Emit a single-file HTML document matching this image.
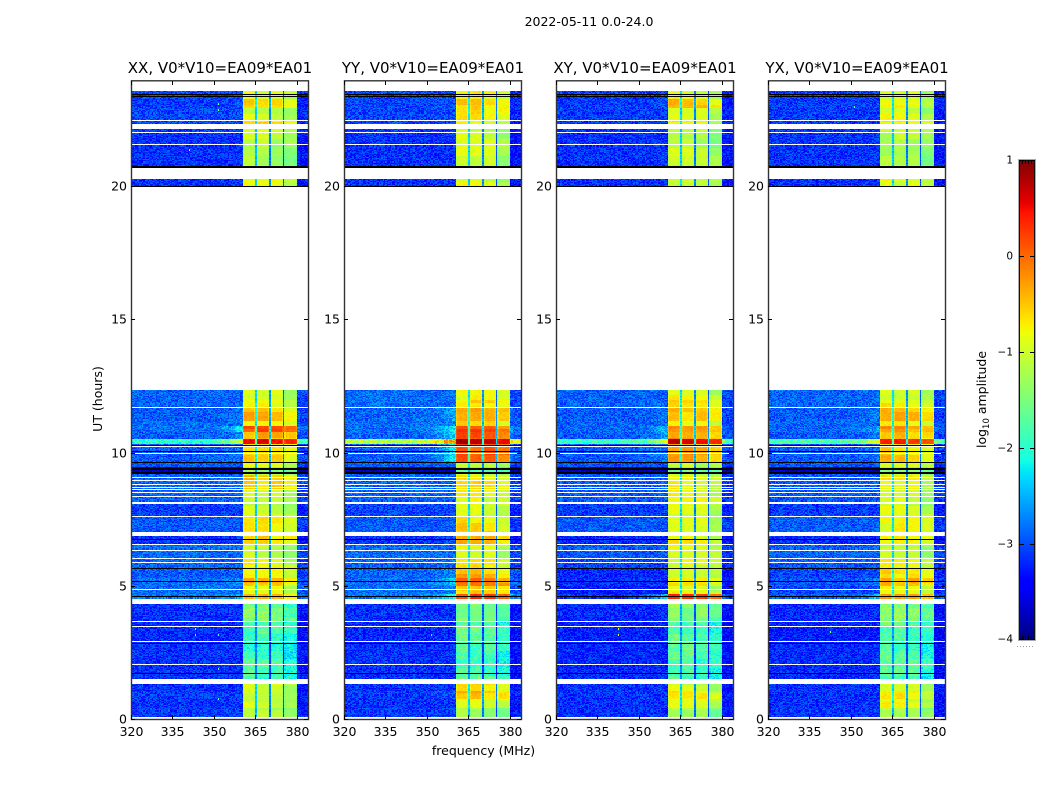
<!DOCTYPE html>
<html>
<head>
<meta charset="utf-8">
<title>2022-05-11 0.0-24.0</title>
<style>
  html, body { margin: 0; padding: 0; background: #fff; }
  #figure { position: relative; width: 1050px; height: 800px; overflow: hidden; background: #fff; }
  canvas { position: absolute; display: block; image-rendering: pixelated; }
  svg { position: absolute; left: 0; top: 0; }
  text { font-family: "DejaVu Sans", "Liberation Sans", sans-serif; fill: #000; }
</style>
</head>
<body>
<div id="figure">
  <svg id="overlay" width="1050" height="800" viewBox="0 0 1050 800"></svg>
</div>
<script>
// ---- data (hours, MHz, log10 amplitude) ----
const panelTitles = ['XX, V0*V10=EA09*EA01', 'YY, V0*V10=EA09*EA01', 'XY, V0*V10=EA09*EA01', 'YX, V0*V10=EA09*EA01'];
const xTickLabels = [320, 335, 350, 365, 380];
const yTickLabels = [0, 5, 10, 15, 20];
const colorbarTickLabels = [1, 0, -1, -2, -3, -4];

const segmentStart = [0, 0.4, 0.75, 1.05, 1.5, 2.84, 3.64, 4.52, 4.69, 4.99, 5.29, 5.67, 6.04, 6.53, 7.02, 7.6, 8.11, 8.6, 9.16, 9.27, 9.46, 9.64, 10.02, 10.32, 10.54, 10.77, 10.99, 11.22, 11.67, 11.97, 19.95, 20.68, 21.54, 22.01, 22.34, 22.46, 22.94, 23.29];
const segmentEnd = [0.4, 0.75, 1.05, 1.5, 2.84, 3.64, 4.52, 4.69, 4.99, 5.29, 5.67, 6.04, 6.53, 7.02, 7.6, 8.11, 8.6, 9.16, 9.27, 9.46, 9.64, 10.02, 10.32, 10.54, 10.77, 10.99, 11.22, 11.67, 11.97, 12.35, 20.27, 21.54, 22.01, 22.34, 22.46, 22.94, 23.29, 23.57];

const xxBand = [-1.2, -0.95, -0.9, -0.9, -1.85, -1.8, -1.5, -0.3, -0.75, -0.45, -0.85, -0.85, -0.95, -0.5, -0.75, -1.0, -0.85, -0.55, -1.1, -1.5, -1.0, -0.45, -0.5, 0.65, -0.35, 0.15, -0.8, -0.45, -0.7, -0.85, -0.9, -1.1, -1.05, -1.0, -0.7, -0.95, -0.45, -0.85];
const yyBand = [-1.15, -0.8, -0.45, -0.7, -1.75, -1.7, -1.4, 0.25, -0.55, -0.1, -0.4, -0.55, -0.85, -0.45, -0.6, -0.8, -0.8, -0.7, -1.0, -1.5, -0.9, 0.2, 0.1, 0.75, 0.05, 0.15, -0.5, -0.2, -0.6, -0.8, -0.9, -0.95, -1.0, -0.95, -0.7, -0.55, -0.55, -0.8];
const xyBand = [-1.2, -0.95, -0.75, -0.95, -1.75, -1.7, -1.4, 0.2, -0.85, -0.55, -0.85, -0.9, -0.95, -0.75, -0.8, -0.95, -0.85, -0.7, -1.0, -1.5, -1.0, -0.35, -0.4, 0.65, -0.2, -0.1, -0.7, -0.5, -0.7, -0.85, -0.9, -1.05, -1.05, -1.0, -0.75, -1.0, -0.5, -0.85];
const yxBand = [-1.25, -0.85, -0.6, -0.85, -1.75, -1.7, -1.45, -0.1, -0.7, -0.35, -0.65, -0.85, -0.95, -0.6, -0.8, -0.95, -0.85, -0.75, -1.1, -1.5, -1.0, -0.5, -0.5, 0.5, -0.4, -0.25, -0.8, -0.45, -0.7, -0.85, -0.9, -1.1, -1.1, -1.05, -0.8, -0.9, -0.7, -0.85];

const xxBackground = [-3.1, -3.15, -3.1, -3.15, -3.15, -3.2, -3.15, -2.8, -2.85, -2.85, -2.95, -2.9, -2.85, -3.15, -2.95, -3.1, -2.9, -2.9, -2.95, -3.7, -2.95, -2.95, -2.95, -2.0, -2.95, -2.85, -2.85, -2.95, -2.9, -2.9, -3.15, -3.15, -3.15, -3.1, -3.05, -3.05, -3.1, -3.05];
const yyBackground = [-3.1, -3.15, -3.1, -3.15, -3.15, -3.2, -3.15, -2.8, -2.85, -2.85, -2.9, -2.9, -2.85, -3.15, -2.95, -3.05, -2.9, -2.9, -2.95, -3.7, -2.95, -2.95, -2.95, -1.15, -2.9, -2.85, -2.85, -2.9, -2.85, -2.85, -3.15, -3.15, -3.15, -3.1, -3.05, -3.05, -3.05, -3.05];
const xyBackground = [-3.15, -3.15, -3.15, -3.15, -3.2, -3.25, -3.2, -3.15, -3.25, -3.15, -3.2, -3.05, -2.95, -3.2, -2.95, -3.1, -2.95, -2.95, -3.0, -3.7, -3.0, -2.95, -2.95, -1.9, -2.95, -2.9, -2.9, -2.95, -2.9, -2.9, -3.15, -3.15, -3.15, -3.15, -3.1, -3.1, -3.1, -3.1];
const yxBackground = [-3.15, -3.15, -3.15, -3.15, -3.2, -3.25, -3.2, -2.95, -3.05, -3.0, -3.05, -2.95, -2.9, -3.2, -2.95, -3.1, -2.95, -2.95, -3.0, -3.7, -3.0, -2.95, -2.95, -1.8, -2.95, -2.9, -2.9, -2.95, -2.9, -2.9, -3.15, -3.15, -3.15, -3.15, -3.1, -3.1, -3.1, -3.1];

const bandSpanStart = [360.5, 365.6, 370.6, 375.6];
const bandSpanEnd = [365.0, 370.0, 375.0, 380.0];
const subbandGain = [0, -0.02, -0.08, -0.3];
const notchStart = [365.0, 370.0, 375.0];
const notchEnd = [365.6, 370.6, 375.6];
const notchLevel = [-2.35, -2.75, -3.0];

const leakStartMHz = [346, 350, 353, 356, 358, 360, 380, 381];
const leakWeight = [0.06, 0.14, 0.28, 0.5, 0.7, 0.9, 0.4, 0.2];
const skyGainStartMHz = [320, 380];
const skyGain = [0, -0.15];

const blankStart = [0, 1.31, 2.02, 2.87, 3.45, 3.62, 4.32, 4.82, 5.84, 6.02, 6.32, 6.51, 6.86, 7.58, 8.07, 8.31, 8.46, 8.58, 8.65, 8.76, 8.91, 9.03, 9.59, 9.93, 10.19, 11.65, 12.35, 20.27, 21.54, 21.99, 22.14, 22.44, 23.57];
const blankEnd = [0.08, 1.5, 2.06, 2.91, 3.49, 3.66, 4.52, 4.86, 5.88, 6.06, 6.36, 6.55, 7.02, 7.62, 8.15, 8.35, 8.5, 8.62, 8.69, 8.8, 8.95, 9.07, 9.63, 9.97, 10.23, 11.69, 19.95, 20.68, 21.58, 22.03, 22.33, 22.48, 24];
const darkLineStart = [1.69, 2.8, 4.57, 5.12, 5.64, 6.71, 9.2, 9.37, 9.62, 10.0, 10.26, 19.95, 20.68, 23.35, 23.41];
const darkLineEnd = [1.73, 2.84, 4.61, 5.16, 5.68, 6.75, 9.27, 9.43, 9.66, 10.04, 10.3, 20.0, 20.75, 23.39, 23.45];

const rfiPanel = [0, 0, 0, 0, 0, 0, 0, 2, 2, 3, 3, 1, 0];
const rfiMHz = [351.5, 351.5, 351.5, 351.5, 351.5, 343, 343, 342.5, 342.5, 342.5, 351, 351.5, 341];
const rfiHour = [0.8, 1.9, 3.2, 22.9, 23.1, 3.2, 3.4, 3.2, 3.4, 3.3, 23.0, 3.2, 21.4];
const rfiValue = [-1.7, -1.7, -1.8, -1.6, -1.7, -0.6, -0.9, -0.7, -0.9, -1.4, -1.7, -1.8, -0.9];

// short hand-estimated noise tiles for the speckled pixel texture and patchy bands
const speckle = [0.12, -0.25, 0.31, -0.08, 0.22, -0.33, 0.05, 0.28, -0.17, -0.02, 0.35, -0.29, 0.14, -0.11, 0.19, -0.36, 0.09, 0.26, -0.21, 0.02, -0.14, 0.33, -0.06, -0.27, 0.17, 0.24, -0.31, 0.07, -0.19, 0.29, -0.04, 0.11, -0.23, 0.38, -0.12, 0.03, -0.34, 0.21, 0.16, -0.09, -0.26, 0.27, 0.0, -0.16, 0.32, -0.3, 0.1, 0.18, -0.22, 0.06, -0.37, 0.25, -0.01, 0.13, -0.28, 0.3, -0.07, -0.18, 0.23, 0.04, -0.13];
const ripple = [0.1, -0.14, 0.18, 0.02, -0.2, 0.12, -0.06, 0.22, -0.1, 0.04, -0.18, 0.16, 0.0, -0.12, 0.2, -0.04, 0.08, -0.22, 0.14, -0.08, 0.06, 0.19, -0.16];

const jetRed = [[0, 0], [0.35, 0], [0.66, 1], [0.89, 1], [1, 0.5]];
const jetGreen = [[0, 0], [0.125, 0], [0.375, 1], [0.64, 1], [0.91, 0], [1, 0]];
const jetBlue = [[0, 0.5], [0.11, 1], [0.34, 1], [0.65, 0], [1, 0]];

// ---- layout ----
const panelLeft = [131, 344, 556, 768];
const panelTop = 81, panelWidth = 177, panelHeight = 638;
const freqMin = 320, freqMax = 384, hourMin = 0, hourMax = 23.94;
const colorMin = -4, colorMax = 1;
const rowHours = 0.04, channelMHz = 0.5;
const cbLeft = 1019, cbTop = 160, cbWidth = 16, cbHeight = 480;

const bandByPanel = [xxBand, yyBand, xyBand, yxBand];
const backgroundByPanel = [xxBackground, yyBackground, xyBackground, yxBackground];

function xScale(f) { return (f - freqMin) / (freqMax - freqMin) * panelWidth; }
function yScale(h) { return panelHeight - (h - hourMin) / (hourMax - hourMin) * panelHeight; }
function cbScale(v) { return cbTop + (colorMax - v) / (colorMax - colorMin) * cbHeight; }

function channelOf(stops, t) {
  for (let i = 1; i < stops.length; i++) {
    if (t <= stops[i][0]) {
      const a = stops[i - 1], b = stops[i];
      return a[1] + (b[1] - a[1]) * (t - a[0]) / (b[0] - a[0]);
    }
  }
  return stops[stops.length - 1][1];
}
function jet(v) {
  const t = Math.max(0, Math.min(1, (v - colorMin) / (colorMax - colorMin)));
  const r = Math.round(channelOf(jetRed, t) * 255);
  const g = Math.round(channelOf(jetGreen, t) * 255);
  const b = Math.round(channelOf(jetBlue, t) * 255);
  return 'rgb(' + r + ',' + g + ',' + b + ')';
}
function findIndex(starts, ends, x) {
  for (let i = 0; i < starts.length; i++) if (x >= starts[i] && x < ends[i]) return i;
  return -1;
}
function lastAtOrBelow(starts, values, f) {
  let w = 0;
  for (let i = 0; i < starts.length; i++) if (f >= starts[i]) w = values[i];
  return w;
}
function cellValue(p, seg, f, row, ch) {
  const level = bandByPanel[p][seg];
  const bg = backgroundByPanel[p][seg];
  const n = speckle[(ch * ch * 7 + row * row * 3 + ch * row + p * 11) % speckle.length];
  const sub = findIndex(bandSpanStart, bandSpanEnd, f);
  if (sub >= 0) {
    const patch = ripple[((row >> 3) * 5 + sub * 7 + p * 3) % ripple.length];
    const edge = (f - bandSpanStart[sub] < 0.5 || bandSpanEnd[sub] - f < 0.5) ? -0.15 : 0;
    const grain = level < -1.4 ? 0.65 : 0.22;
    return level + subbandGain[sub] + patch * 0.8 + edge + n * grain;
  }
  const notch = findIndex(notchStart, notchEnd, f);
  if (notch >= 0) return notchLevel[notch] + (level + 1) * 0.45 + n * 0.4;
  const leak = Math.min(0.9, lastAtOrBelow(leakStartMHz, leakWeight, f) * Math.max(0, level + 0.6) * 1.2);
  return bg + leak + lastAtOrBelow(skyGainStartMHz, skyGain, f) + n * 0.8;
}

// ---- heatmaps ----
const fig = document.getElementById('figure');
const svg = document.getElementById('overlay');
const NS = 'http://www.w3.org/2000/svg';

panelLeft.forEach(function (left, p) {
  const c = document.createElement('canvas');
  c.width = panelWidth;
  c.height = panelHeight;
  c.style.left = left + 'px';
  c.style.top = panelTop + 'px';
  
  
  fig.insertBefore(c, svg);
  const g = c.getContext('2d');
  g.fillStyle = '#fff';
  g.fillRect(0, 0, panelWidth, panelHeight);
  const rows = Math.round((hourMax - hourMin) / rowHours);
  const chans = Math.round((freqMax - freqMin) / channelMHz);
  for (let r = 0; r < rows; r++) {
    const h = hourMin + (r + 0.5) * rowHours;
    const seg = findIndex(segmentStart, segmentEnd, h);
    if (seg < 0) continue;
    const y0 = Math.round(yScale(h + rowHours / 2));
    const y1 = Math.round(yScale(h - rowHours / 2));
    for (let k = 0; k < chans; k++) {
      const f = freqMin + (k + 0.5) * channelMHz;
      const x0 = Math.round(xScale(f - channelMHz / 2));
      const x1 = Math.round(xScale(f + channelMHz / 2));
      g.fillStyle = jet(cellValue(p, seg, f, r, k));
      g.fillRect(x0, y0, x1 - x0, y1 - y0);
    }
  }
  rfiMHz.forEach(function (f, i) {
    if (rfiPanel[i] !== p) return;
    g.fillStyle = jet(rfiValue[i]);
    g.fillRect(Math.round(xScale(f)), Math.round(yScale(rfiHour[i])), 1, 2);
  });
  function spans(starts, ends, color) {
    g.fillStyle = color;
    starts.forEach(function (s, i) {
      const y0 = Math.round(yScale(ends[i]));
      const hgt = Math.max(1, Math.round(yScale(s) - yScale(ends[i])));
      g.fillRect(0, y0, panelWidth, hgt);
    });
  }
  spans(blankStart, blankEnd, '#fff');
  spans(darkLineStart, darkLineEnd, '#000');
});

// ---- colorbar ----
const cb = document.createElement('canvas');
cb.width = cbWidth;
cb.height = cbHeight;
cb.style.left = cbLeft + 'px';
cb.style.top = cbTop + 'px';


fig.insertBefore(cb, svg);
const cbg = cb.getContext('2d');
for (let y = 0; y < cbHeight; y++) {
  cbg.fillStyle = jet(colorMax - (y + 0.5) / cbHeight * (colorMax - colorMin));
  cbg.fillRect(0, y, cbWidth, 1);
}

// ---- svg helpers ----
function line(x1, y1, x2, y2, stroke, width) {
  const el = document.createElementNS(NS, 'line');
  el.setAttribute('x1', x1);
  el.setAttribute('y1', y1);
  el.setAttribute('x2', x2);
  el.setAttribute('y2', y2);
  el.setAttribute('stroke', stroke);
  el.setAttribute('stroke-width', width);
  svg.appendChild(el);
  return el;
}
function label(str, x, y, size, anchor) {
  const el = document.createElementNS(NS, 'text');
  el.setAttribute('x', x);
  el.setAttribute('y', y);
  el.setAttribute('font-size', size);
  el.setAttribute('text-anchor', anchor);
  el.textContent = str;
  svg.appendChild(el);
  return el;
}

// ---- axes ----
panelLeft.forEach(function (left, p) {
  const frame = document.createElementNS(NS, 'rect');
  frame.setAttribute('x', left + 0.5);
  frame.setAttribute('y', panelTop - 0.2);
  frame.setAttribute('width', panelWidth);
  frame.setAttribute('height', panelHeight + 0.7);
  frame.setAttribute('fill', 'none');
  frame.setAttribute('stroke', '#333');
  frame.setAttribute('stroke-width', 1.4);
  
  
  svg.appendChild(frame);

  const title = label(panelTitles[p], left + panelWidth / 2 + 0.5, panelTop - 8, 15, 'middle');
  
  

  xTickLabels.forEach(function (f) {
    const x = Math.round(left + xScale(f)) + 0.5;
    const bottomTick = line(x, panelTop + panelHeight, x, panelTop + panelHeight - 4, '#000', 1);
    
    
    const topTick = line(x, panelTop, x, panelTop + 4, '#000', 1);
    
    
    const tl = label(String(f), x, panelTop + panelHeight + 17, 12.5, 'middle');
    
    
  });
  yTickLabels.forEach(function (h) {
    const y = Math.round(panelTop + yScale(h)) + 0.5;
    const leftTick = line(left, y, left + 4, y, '#000', 1);
    
    
    const rightTick = line(left + panelWidth, y, left + panelWidth - 4, y, '#000', 1);
    
    
    const tl = label(String(h), left - 4, y + 4, 12.5, 'end');
    
    
  });
});

const supTitle = label('2022-05-11 0.0-24.0', 589, 26, 12.5, 'middle');



const xTitle = label('frequency (MHz)', 483.5, 755, 12.5, 'middle');



const yTitle = label('UT (hours)', 0, 0, 12.5, 'middle');
yTitle.setAttribute('transform', 'translate(102,399) rotate(-90)');



// ---- colorbar frame, ticks, labels ----
const cbOuter = document.createElementNS(NS, 'rect');
cbOuter.setAttribute('x', cbLeft - 0.5);
cbOuter.setAttribute('y', cbTop - 0.5);
cbOuter.setAttribute('width', cbWidth + 1);
cbOuter.setAttribute('height', cbHeight + 1);
cbOuter.setAttribute('fill', 'none');
cbOuter.setAttribute('stroke', '#aaa');
cbOuter.setAttribute('stroke-width', 1);


svg.appendChild(cbOuter);

const cbInner = document.createElementNS(NS, 'rect');
cbInner.setAttribute('x', cbLeft + 0.5);
cbInner.setAttribute('y', cbTop + 0.5);
cbInner.setAttribute('width', cbWidth - 1);
cbInner.setAttribute('height', cbHeight - 1);
cbInner.setAttribute('fill', 'none');
cbInner.setAttribute('stroke', '#111');
cbInner.setAttribute('stroke-width', 1);


svg.appendChild(cbInner);

colorbarTickLabels.forEach(function (v) {
  const y = Math.round(cbScale(v)) + (v === colorMin ? -0.5 : 0.5);
  const a = line(cbLeft, y, cbLeft + 5, y, '#000', 1);
  
  
  const b = line(cbLeft + cbWidth - 5, y, cbLeft + cbWidth, y, '#000', 1);
  
  
  const tl = label(String(v).replace('-', '\u2212'), cbLeft - 6, y + 3, 10.5, 'end');
  
  
});
[3, 6, 9, 12].forEach(function (dx) {
  const t1 = line(cbLeft + dx + 0.5, cbTop, cbLeft + dx + 0.5, cbTop + 4, '#000', 1);
  
  
  const t2 = line(cbLeft + dx + 0.5, cbTop + cbHeight, cbLeft + dx + 0.5, cbTop + cbHeight - 4, '#000', 1);
  
  
});
const cbDots = line(cbLeft - 2, 646.5, cbLeft + cbWidth, 646.5, '#999', 1);
cbDots.setAttribute('stroke-dasharray', '1 2');



const cbTitle = document.createElementNS(NS, 'text');
cbTitle.setAttribute('transform', 'translate(986,399.5) rotate(-90)');
cbTitle.setAttribute('font-size', 12.5);
cbTitle.setAttribute('text-anchor', 'middle');


cbTitle.appendChild(document.createTextNode('log'));
const cbSub = document.createElementNS(NS, 'tspan');
cbSub.setAttribute('font-size', 8.5);
cbSub.setAttribute('dy', 3);
cbSub.textContent = '10';
cbTitle.appendChild(cbSub);
const cbRest = document.createElementNS(NS, 'tspan');
cbRest.setAttribute('dy', -3);
cbRest.textContent = ' amplitude';
cbTitle.appendChild(cbRest);
svg.appendChild(cbTitle);
</script>
</body>
</html>
